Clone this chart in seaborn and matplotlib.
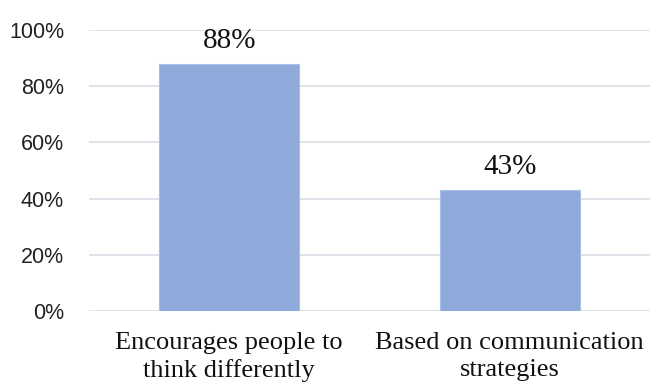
import matplotlib
matplotlib.use("Agg")
import matplotlib.pyplot as plt
import seaborn as sns
import pandas as pd
from matplotlib.ticker import PercentFormatter

categories = ["Encourages people to\nthink differently", "Based on communication\nstrategies"]
values = [0.88, 0.43]
value_labels = ["88%", "43%"]
yticks = [0, 0.2, 0.4, 0.6, 0.8, 1.0]

df = pd.DataFrame({"category": categories, "share": values})

sns.set_theme(style="white")
plt.rcParams["font.family"] = ["Liberation Sans", "DejaVu Sans"]

fig = plt.figure(figsize=(6.5, 3.83), dpi=100)
ax = fig.add_axes([0.137, 0.188, 0.863, 0.734])

sns.barplot(data=df, x="category", y="share", color="#8eaadb", width=0.5,
            saturation=1, ax=ax, zorder=3, edgecolor="#a9bfe5", linewidth=0.8)

ax.set_xlim(-0.5, 1.5)
ax.set_ylim(0, 1.0)
ax.set_yticks(yticks)
ax.yaxis.set_major_formatter(PercentFormatter(1.0, decimals=0))
ax.grid(axis="y", color="#d9dde5", linewidth=1.2, zorder=0)
ax.set_axisbelow(True)
for s in ax.spines.values():
    s.set_visible(False)
ax.set_xlabel("")
ax.set_ylabel("")
ax.tick_params(axis="y", labelsize=15.5, pad=18, length=0, labelcolor="#222222")
ax.tick_params(axis="x", length=0, pad=15)
for lab in ax.get_xticklabels():
    lab.set_fontfamily("Liberation Serif")
    lab.set_fontsize(19)
    lab.set_linespacing(1.28)
    lab.set_color("#111111")

for i, (v, t) in enumerate(zip(values, value_labels)):
    ax.annotate(t, xy=(i, v), xytext=(0, 7), textcoords="offset points",
                ha="center", va="bottom", fontsize=21,
                fontfamily="Liberation Serif", color="#111111")

fig.savefig("out.png", dpi=100)
